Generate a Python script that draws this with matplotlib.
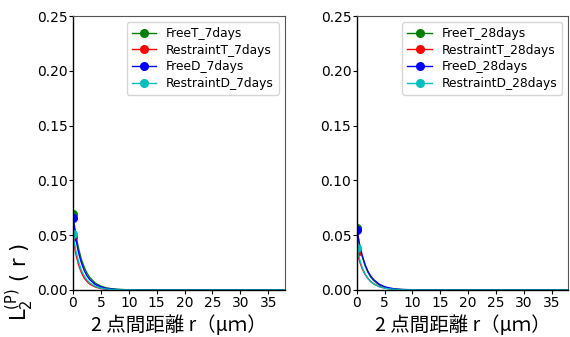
import matplotlib
matplotlib.use("Agg")
import matplotlib.pyplot as plt

r = [0, 0.5, 1, 1.5, 2, 2.5, 3, 4, 5, 6, 7, 8, 10, 12, 15, 20, 25, 30, 35, 38]

free_t_7 = [0.069, 0.051, 0.038, 0.028, 0.021, 0.0155, 0.0115, 0.0063, 0.0035, 0.0019, 0.0011, 0.0006, 0.0002, 0.0001, 0.0, 0.0, 0.0, 0.0, 0.0, 0.0]
restr_t_7 = [0.048, 0.033, 0.023, 0.016, 0.011, 0.0078, 0.0054, 0.0027, 0.0013, 0.0006, 0.0003, 0.0002, 0.0001, 0.0, 0.0, 0.0, 0.0, 0.0, 0.0, 0.0]
free_d_7 = [0.066, 0.047, 0.034, 0.025, 0.018, 0.013, 0.0095, 0.005, 0.0027, 0.0014, 0.0008, 0.0004, 0.0001, 0.0, 0.0, 0.0, 0.0, 0.0, 0.0, 0.0]
restr_d_7 = [0.051, 0.036, 0.026, 0.018, 0.013, 0.0092, 0.0065, 0.0033, 0.0017, 0.0008, 0.0004, 0.0002, 0.0001, 0.0, 0.0, 0.0, 0.0, 0.0, 0.0, 0.0]

free_t_28 = [0.057, 0.041, 0.030, 0.022, 0.016, 0.0118, 0.0087, 0.0047, 0.0025, 0.0014, 0.0007, 0.0004, 0.0001, 0.0, 0.0, 0.0, 0.0, 0.0, 0.0, 0.0]
restr_t_28 = [0.035, 0.026, 0.019, 0.014, 0.0105, 0.0078, 0.0058, 0.0032, 0.0018, 0.001, 0.0005, 0.0003, 0.0001, 0.0, 0.0, 0.0, 0.0, 0.0, 0.0, 0.0]
free_d_28 = [0.055, 0.041, 0.031, 0.023, 0.017, 0.0128, 0.0096, 0.0054, 0.003, 0.0017, 0.0009, 0.0005, 0.0002, 0.0001, 0.0, 0.0, 0.0, 0.0, 0.0, 0.0]
restr_d_28 = [0.038, 0.028, 0.020, 0.0145, 0.0105, 0.0077, 0.0056, 0.003, 0.0016, 0.0009, 0.0005, 0.0002, 0.0001, 0.0, 0.0, 0.0, 0.0, 0.0, 0.0, 0.0]

labels_7 = ["FreeT_7days", "RestraintT_7days", "FreeD_7days", "RestraintD_7days"]
labels_28 = ["FreeT_28days", "RestraintT_28days", "FreeD_28days", "RestraintD_28days"]
colors = ["green", "red", "blue", "c"]

xticks = [0, 5, 10, 15, 20, 25, 30, 35]
yticks = [0.00, 0.05, 0.10, 0.15, 0.20, 0.25]

fig = plt.figure(figsize=(5.7, 3.37), dpi=100)
ax1 = fig.add_axes([0.128, 0.1395, 0.372, 0.813])
ax2 = fig.add_axes([0.626, 0.1395, 0.371, 0.813])

xlabel = "2 点間距離 r（μｍ）"

for ax, series, labels in [(ax1, [free_t_7, restr_t_7, free_d_7, restr_d_7], labels_7),
                           (ax2, [free_t_28, restr_t_28, free_d_28, restr_d_28], labels_28)]:
    for ys, lab, col in zip(series, labels, colors):
        ax.plot(r, ys, color=col, marker="o", markersize=5.5, markevery=[0],
                linewidth=1, label=lab)
    ax.set_xlim(0, 38)
    ax.set_ylim(0, 0.25)
    ax.set_xticks(xticks)
    ax.set_yticks(yticks)
    ax.set_yticklabels([f"{v:.2f}" for v in yticks])
    ax.tick_params(labelsize=10, length=3, width=0.8, pad=1)
    for s in ["top", "right"]:
        ax.spines[s].set_color("#555555")
        ax.spines[s].set_linewidth(0.8)
    for s in ["left", "bottom"]:
        ax.spines[s].set_color("black")
        ax.spines[s].set_linewidth(1.0)
    ax.set_xlabel(xlabel, family=["Noto Sans CJK JP", "DejaVu Sans"], fontsize=14, labelpad=4)
    leg = ax.legend(loc="upper right", fontsize=8.8, frameon=True, handlelength=2,
                    borderpad=0.4, labelspacing=0.3)
    leg.get_frame().set_edgecolor("#cccccc")

ax1.set_ylabel(r"$\mathrm{L}_2^{\mathrm{(P)}}$ ( r )", fontsize=15)
ax1.yaxis.set_label_coords(-0.172, 0.03)

fig.savefig("out.png", dpi=100)
